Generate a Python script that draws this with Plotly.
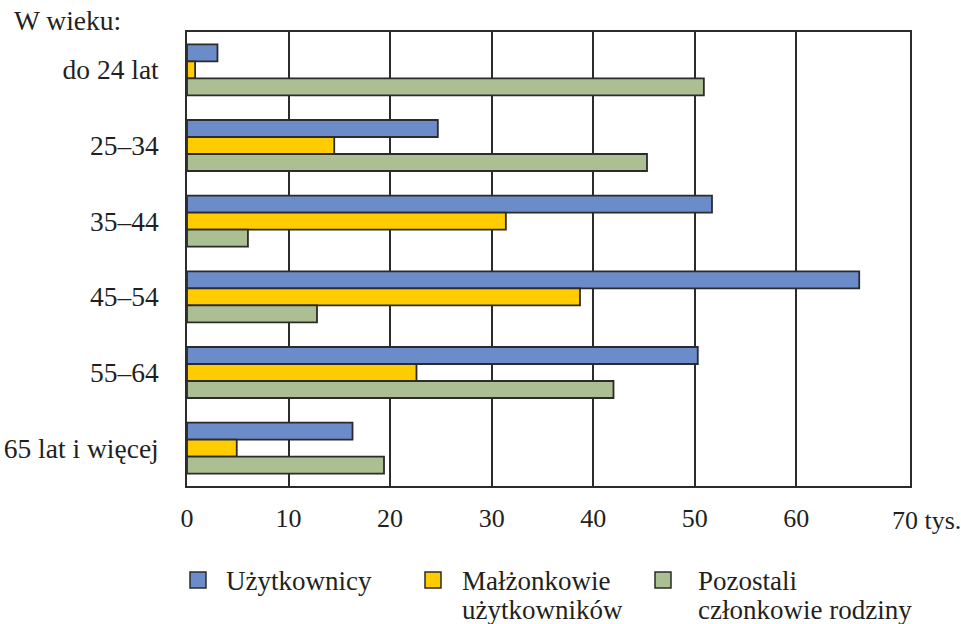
import plotly.graph_objects as go

# Age groups (top to bottom) and values in thousands
age_groups = ["do 24 lat", "25–34", "35–44", "45–54", "55–64", "65 lat i więcej"]
uzytkownicy = [3.0, 24.7, 51.7, 66.2, 50.3, 16.3]
malzonkowie = [0.8, 14.5, 31.4, 38.7, 22.6, 4.9]
pozostali = [50.9, 45.3, 6.0, 12.8, 42.0, 19.4]

series_names = ["Użytkownicy", "Małżonkowie<br>użytkowników", "Pozostali<br>członkowie rodziny"]
series_values = [uzytkownicy, malzonkowie, pozostali]
series_colors = ["#6b8cc8", "#ffcc00", "#abbf92"]

x_ticks = [0, 10, 20, 30, 40, 50, 60]

FONT = "Liberation Serif, Times New Roman, serif"
TEXT_COLOR = "#231f20"
LINE_COLOR = "#2b2b2b"

fig = go.Figure()
for name, vals, color in zip(series_names, series_values, series_colors):
    fig.add_trace(go.Bar(
        y=age_groups, x=vals, name=name, orientation="h",
        marker=dict(color=color, line=dict(color=LINE_COLOR, width=1.8)),
        showlegend=False,
    ))

W, H = 961, 624
ml, mr, mt, mb = 187, 51, 32, 138
PW, PH = W - ml - mr, H - mt - mb


def px(x):
    """Pixel x in the figure -> paper x."""
    return (x - ml) / PW


def py(y):
    """Pixel y in the figure -> paper y."""
    return 1 - (y - mt) / PH


fig.update_layout(
    width=W, height=H,
    margin=dict(l=ml, r=mr, t=mt, b=mb, pad=0),
    paper_bgcolor="white", plot_bgcolor="white",
    barmode="group", bargap=0.326, bargroupgap=0,
    font=dict(family=FONT, size=27, color=TEXT_COLOR),
    xaxis=dict(
        range=[0, 71.2], tickvals=x_ticks, ticktext=[str(v) for v in x_ticks],
        showgrid=True, gridcolor=LINE_COLOR, gridwidth=1.5,
        showline=True, linecolor=LINE_COLOR, linewidth=1.5, mirror=True,
        ticks="", ticklabelstandoff=8, zeroline=False, automargin=False,
        tickfont=dict(family=FONT, size=26, color=TEXT_COLOR),
    ),
    yaxis=dict(
        autorange="reversed", showgrid=False,
        showline=True, linecolor=LINE_COLOR, linewidth=1.5, mirror=True,
        ticks="", ticklabelstandoff=21, automargin=False,
        tickfont=dict(family=FONT, size=27.5, color=TEXT_COLOR),
    ),
)

# Axis unit label after the last value
fig.add_annotation(x=70, y=py(520), xref="x", yref="paper", yanchor="middle",
                   xanchor="left", xshift=-8,
                   text="70 tys.", showarrow=False,
                   font=dict(family=FONT, size=26, color=TEXT_COLOR))

# Heading over the category labels
fig.add_annotation(x=px(12), y=py(20), xref="paper", yref="paper",
                   xanchor="left", yanchor="middle", text="W wieku:",
                   showarrow=False,
                   font=dict(family=FONT, size=27.5, color=TEXT_COLOR))

# Legend drawn as squares with labels below the plot
legend_square_x = [190, 425, 655]
legend_text_x = [224, 460, 696]
legend_line_y = [581, 610]
sq = 16
sq_cy = 580
for name, color, sx, tx in zip(series_names, series_colors, legend_square_x, legend_text_x):
    fig.add_shape(type="rect", xref="paper", yref="paper",
                  x0=px(sx), x1=px(sx + sq),
                  y0=py(sq_cy + sq / 2), y1=py(sq_cy - sq / 2),
                  fillcolor=color, line=dict(color=LINE_COLOR, width=1.5))
    for line, ly in zip(name.split("<br>"), legend_line_y):
        fig.add_annotation(x=px(tx), y=py(ly), xref="paper", yref="paper",
                           xanchor="left", yanchor="middle", align="left",
                           text=line, showarrow=False,
                           font=dict(family=FONT, size=27, color=TEXT_COLOR))

fig.write_html("out.html")
